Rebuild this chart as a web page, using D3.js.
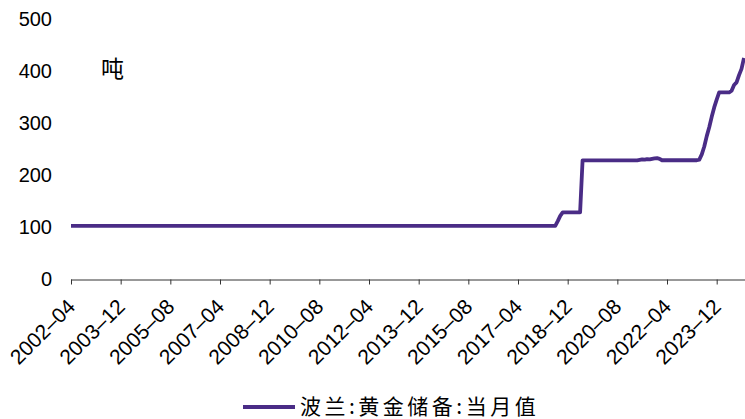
<!DOCTYPE html>
<html>
<head>
<meta charset="utf-8">
<script src="https://cdn.jsdelivr.net/npm/d3@7/dist/d3.min.js"></script>
<style>
  html, body { margin: 0; padding: 0; background: #fff; }
  svg { display: block; }
</style>
</head>
<body>
<svg id="chart" width="745" height="419"></svg>
<script>
// Monthly series, first month 2002-04
const startYear = 2002, startMonth = 4;

// Poland gold reserves (tonnes), one row per calendar year
const reserves = [
  /* 2002 Apr-Dec */ 102.9,102.9,102.9,102.9,102.9,102.9,102.9,102.9,102.9,
  /* 2003 */ 102.9,102.9,102.9,102.9,102.9,102.9,102.9,102.9,102.9,102.9,102.9,102.9,
  /* 2004 */ 102.9,102.9,102.9,102.9,102.9,102.9,102.9,102.9,102.9,102.9,102.9,102.9,
  /* 2005 */ 102.9,102.9,102.9,102.9,102.9,102.9,102.9,102.9,102.9,102.9,102.9,102.9,
  /* 2006 */ 102.9,102.9,102.9,102.9,102.9,102.9,102.9,102.9,102.9,102.9,102.9,102.9,
  /* 2007 */ 102.9,102.9,102.9,102.9,102.9,102.9,102.9,102.9,102.9,102.9,102.9,102.9,
  /* 2008 */ 102.9,102.9,102.9,102.9,102.9,102.9,102.9,102.9,102.9,102.9,102.9,102.9,
  /* 2009 */ 102.9,102.9,102.9,102.9,102.9,102.9,102.9,102.9,102.9,102.9,102.9,102.9,
  /* 2010 */ 102.9,102.9,102.9,102.9,102.9,102.9,102.9,102.9,102.9,102.9,102.9,102.9,
  /* 2011 */ 102.9,102.9,102.9,102.9,102.9,102.9,102.9,102.9,102.9,102.9,102.9,102.9,
  /* 2012 */ 102.9,102.9,102.9,102.9,102.9,102.9,102.9,102.9,102.9,102.9,102.9,102.9,
  /* 2013 */ 102.9,102.9,102.9,102.9,102.9,102.9,102.9,102.9,102.9,102.9,102.9,102.9,
  /* 2014 */ 102.9,102.9,102.9,102.9,102.9,102.9,102.9,102.9,102.9,102.9,102.9,102.9,
  /* 2015 */ 102.9,102.9,102.9,102.9,102.9,102.9,102.9,102.9,102.9,102.9,102.9,102.9,
  /* 2016 */ 102.9,102.9,102.9,102.9,102.9,102.9,102.9,102.9,102.9,102.9,102.9,102.9,
  /* 2017 */ 102.9,102.9,102.9,102.9,102.9,102.9,102.9,102.9,102.9,102.9,102.9,102.9,
  /* 2018 */ 102.9,102.9,102.9,102.9,102.9,102.9,103.0,112.0,122.0,128.6,128.6,128.6,
  /* 2019 */ 128.6,128.6,128.6,128.6,128.6,228.6,228.6,228.6,228.6,228.6,228.6,228.6,
  /* 2020 */ 228.6,228.6,228.6,228.6,228.6,228.6,228.6,228.6,228.6,228.6,228.6,228.6,
  /* 2021 */ 228.6,228.6,228.6,228.6,229.5,230.5,229.8,231.0,230.3,231.5,232.5,232.8,
  /* 2022 */ 231.5,228.7,228.7,228.7,228.7,228.7,228.7,228.7,228.7,228.7,228.7,228.7,
  /* 2023 */ 228.7,228.7,228.7,228.7,230.0,240.0,255.0,275.0,292.0,312.0,330.0,345.0,
  /* 2024 Jan-Nov */ 358.7,358.7,358.7,358.7,358.7,362.0,373.0,378.0,392.0,404.0,425.0
];

// Month keys for each point
const months = reserves.map((_, i) => {
  const m = startMonth - 1 + i;
  const y = startYear + Math.floor(m / 12);
  return `${y}-${String(m % 12 + 1).padStart(2, "0")}`;
});

const xTickMonths = ["2002-04","2003-12","2005-08","2007-04","2008-12","2010-08","2012-04",
                     "2013-12","2015-08","2017-04","2018-12","2020-08","2022-04","2023-12"];
const yTicks = [0, 100, 200, 300, 400, 500];
const unitLabel = "吨";
const seriesName = "波兰:黄金储备:当月值";

const svg = d3.select("#chart");
const latin = "'Liberation Sans', Arial, sans-serif";
const cjk = "'Noto Sans CJK SC', sans-serif";
const lineColor = "#4a2c86";

const x = d3.scalePoint().domain(months).range([71, 744]);
const y = d3.scaleLinear().domain([0, 500]).range([279.5, 18.8]);

// Y axis: labels only, no domain line
const yAxis = svg.append("g")
  .attr("transform", "translate(71,0)")
  .call(d3.axisLeft(y).tickValues(yTicks).tickSize(0).tickPadding(19));
yAxis.select(".domain").remove();
yAxis.selectAll("text")
  .attr("font-family", latin).attr("font-size", 20).attr("fill", "#000");

// X axis with ticks every 20 months, labels use an en dash
const xAxis = svg.append("g")
  .attr("transform", "translate(0,279.5)")
  .call(d3.axisBottom(x).tickValues(xTickMonths)
    .tickFormat(d => d.replace("-", "–"))
    .tickSizeOuter(0).tickSizeInner(5));
xAxis.select(".domain").attr("d", "M71,0.5H745").attr("stroke", "#333");
xAxis.selectAll(".tick line").attr("stroke", "#333");
xAxis.selectAll("text")
  .attr("font-family", latin).attr("font-size", 21).attr("fill", "#000")
  .attr("text-anchor", "end")
  .attr("dy", null).attr("y", null)
  .attr("transform", "translate(5,28.5) rotate(-45)");

// Unit label
svg.append("text")
  .attr("x", 101).attr("y", 77)
  .attr("font-family", cjk).attr("font-size", 23).attr("fill", "#000")
  .text(unitLabel);

// Series line
const line = d3.line()
  .x((d, i) => x(months[i]))
  .y(d => y(d));
svg.append("path")
  .datum(reserves)
  .attr("d", line)
  .attr("fill", "none")
  .attr("stroke", lineColor)
  .attr("stroke-width", 3.8)
  .attr("stroke-linejoin", "round");

// Legend
const legend = svg.append("g").attr("transform", "translate(243,407)");
legend.append("line")
  .attr("x1", 0).attr("x2", 52).attr("y1", 0).attr("y2", 0)
  .attr("stroke", lineColor).attr("stroke-width", 3.8);
legend.append("text")
  .attr("x", 57).attr("y", 7)
  .attr("font-family", cjk).attr("font-size", 21).attr("letter-spacing", 3.5)
  .attr("fill", "#000")
  .text(seriesName);
</script>
</body>
</html>
